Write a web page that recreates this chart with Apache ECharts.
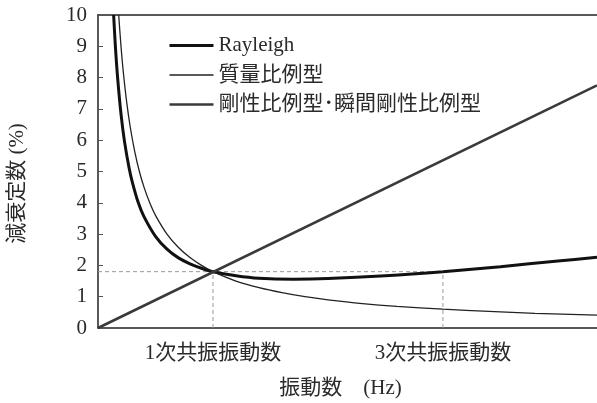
<!DOCTYPE html>
<html>
<head>
<meta charset="utf-8">
<script src="https://cdn.jsdelivr.net/npm/echarts@6/dist/echarts.min.js"></script>
<style>html,body{margin:0;padding:0;background:#fff}#c{width:597px;height:403px}</style>
</head>
<body>
<div id="c"></div>
<script>
// Frequency axis is normalized so that 1st resonance = 1, 3rd resonance = 3
const seriesNames = ['Rayleigh', '質量比例型', '剛性比例型･瞬間剛性比例型'];
const resonanceFreqs = [1, 3];
const resonanceLabels = ['1次共振振動数', '3次共振振動数'];
const yTicks = [0,1,2,3,4,5,6,7,8,9,10];

const rayleighF = [0.136, 0.15, 0.17, 0.2, 0.23, 0.27, 0.3, 0.35, 0.4, 0.5, 0.6, 0.7, 0.8, 0.9, 1.0, 1.2, 1.4, 1.7, 2.0, 2.5, 3.0, 3.5, 4.0, 4.34];
const rayleighH = [10.0, 9.07, 8.02, 6.84, 5.97, 5.12, 4.64, 4.01, 3.56, 2.93, 2.52, 2.24, 2.05, 1.91, 1.80, 1.67, 1.59, 1.56, 1.58, 1.67, 1.80, 1.96, 2.14, 2.26];

const massF = [0.18, 0.2, 0.22, 0.25, 0.28, 0.32, 0.36, 0.4, 0.45, 0.5, 0.6, 0.7, 0.8, 0.9, 1.0, 1.2, 1.4, 1.6, 1.8, 2.0, 2.3, 2.6, 3.0, 3.4, 3.8, 4.34];
const massH = [10.0, 9.0, 8.18, 7.2, 6.43, 5.63, 5.0, 4.5, 4.0, 3.6, 3.0, 2.57, 2.25, 2.0, 1.8, 1.5, 1.29, 1.13, 1.0, 0.9, 0.78, 0.69, 0.6, 0.53, 0.47, 0.41];

const stiffF = [0, 4.34];
const stiffH = [0, 7.75];

const targetH = 1.8;

const zip = (a, b) => a.map((v, i) => [v, b[i]]);
const FONT = '"Liberation Serif", "Noto Sans CJK JP", serif';
const TXT = '#2a2a2a';
const COLORS = ['#111', '#222', '#3a3a3a'];
const WIDTHS = [3, 1.3, 2.6];

const chart = echarts.init(document.getElementById('c'), null, {renderer: 'canvas'});
const guideStyle = {color: '#9a9a9a', width: 1, type: [4, 3]};
chart.setOption({
  animation: false,
  backgroundColor: '#fff',
  grid: {left: 98, right: 0, top: 15, bottom: 75, outerBoundsMode: 'none', containLabel: false},
  legend: {
    data: seriesNames.map((n, i) => ({name: n, lineStyle: {width: WIDTHS[i], color: COLORS[i]}})),
    orient: 'vertical',
    left: 168, top: 35, padding: 0,
    itemWidth: 44, itemHeight: 14, itemGap: 8.5,
    itemStyle: {opacity: 0},
    textStyle: {fontFamily: FONT, fontSize: 21, color: TXT}
  },
  xAxis: [{
    type: 'value', min: 0, max: 4.34, interval: 1,
    axisLine: {lineStyle: {color: '#222', width: 1.5}},
    axisTick: {show: false},
    splitLine: {show: false},
    axisLabel: {
      margin: 15, fontFamily: FONT, fontSize: 21, color: TXT,
      formatter: v => { const i = resonanceFreqs.indexOf(v); return i >= 0 ? resonanceLabels[i] : ''; }
    },
    name: '振動数　(Hz)', nameLocation: 'middle', nameGap: 50,
    nameTextStyle: {fontFamily: FONT, fontSize: 21, color: TXT, padding: [0, 14, 0, 0]}
  }, {
    type: 'value', position: 'top', min: 0, max: 4.34,
    axisLine: {show: true, lineStyle: {color: '#222', width: 1.5}},
    axisTick: {show: false}, axisLabel: {show: false}, splitLine: {show: false}
  }],
  yAxis: {
    type: 'value', min: 0, max: 10, interval: 1,
    axisLine: {show: true, lineStyle: {color: '#222', width: 1.5}},
    axisTick: {show: true, inside: true, length: 5, lineStyle: {color: '#555'}},
    splitLine: {show: false},
    axisLabel: {margin: 11, fontFamily: FONT, fontSize: 21, color: TXT,
      formatter: v => yTicks.indexOf(v) >= 0 ? String(v) : ''},
    name: '減衰定数 (%)', nameLocation: 'middle', nameGap: 70, nameRotate: 90,
    nameTextStyle: {fontFamily: FONT, fontSize: 21, color: TXT, padding: [0, 24, 0, 0]}
  },
  series: [
    {type: 'line', name: 'guideH', data: [[0, targetH], [resonanceFreqs[1], targetH]], symbol: 'none', lineStyle: guideStyle, z: 1, silent: true},
    {type: 'line', name: 'guideV1', data: [[resonanceFreqs[0], 0], [resonanceFreqs[0], targetH]], symbol: 'none', lineStyle: guideStyle, z: 1, silent: true},
    {type: 'line', name: 'guideV3', data: [[resonanceFreqs[1], 0], [resonanceFreqs[1], targetH]], symbol: 'none', lineStyle: guideStyle, z: 1, silent: true},
    {type: 'line', name: seriesNames[0], data: zip(rayleighF, rayleighH), symbol: 'none', smooth: 0.3,
      lineStyle: {color: COLORS[0], width: WIDTHS[0]}, itemStyle: {color: COLORS[0]}, z: 3},
    {type: 'line', name: seriesNames[1], data: zip(massF, massH), symbol: 'none', smooth: 0.3,
      lineStyle: {color: COLORS[1], width: WIDTHS[1]}, itemStyle: {color: COLORS[1]}, z: 3},
    {type: 'line', name: seriesNames[2], data: zip(stiffF, stiffH), symbol: 'none',
      lineStyle: {color: COLORS[2], width: WIDTHS[2]}, itemStyle: {color: COLORS[2]}, z: 3}
  ]
});
</script>
</body>
</html>
